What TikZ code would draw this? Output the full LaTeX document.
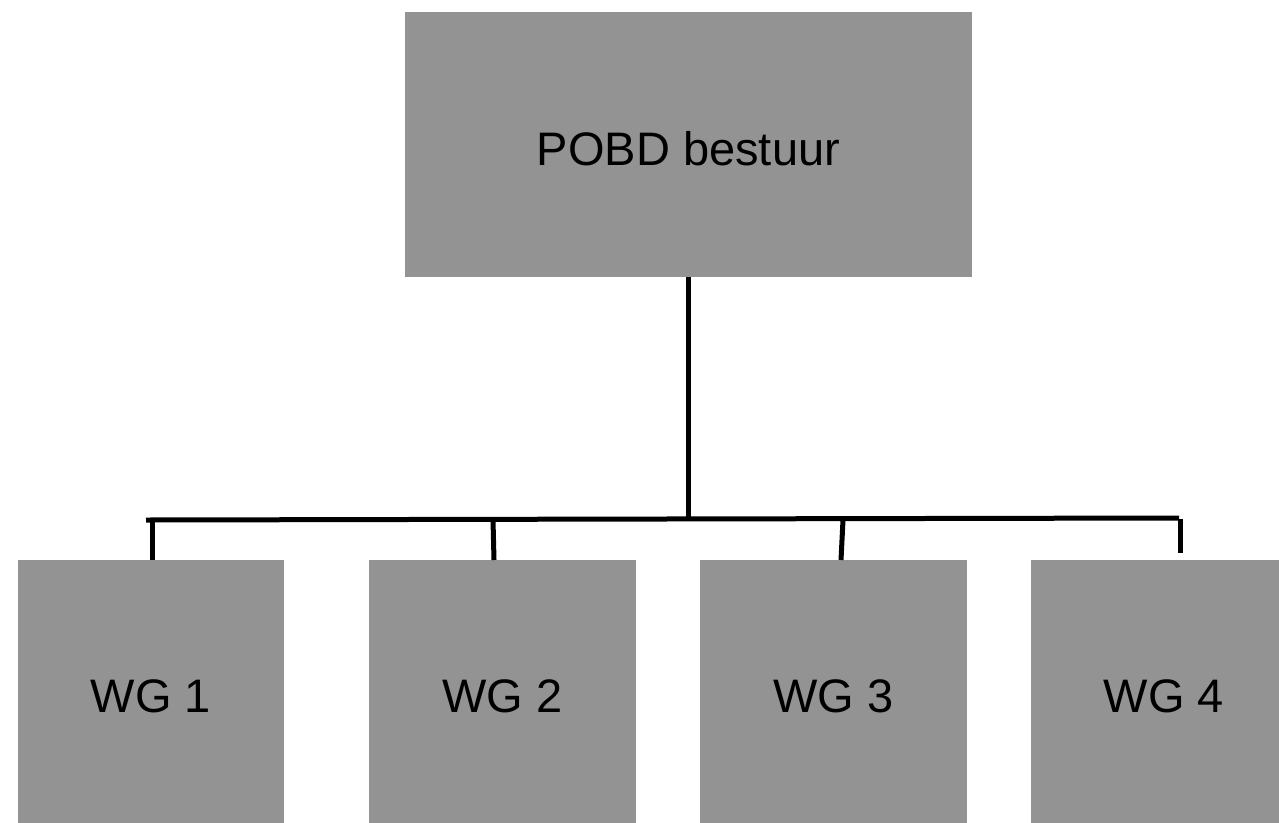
\documentclass[tikz,border=0pt]{standalone}
\usepackage{fontspec}
\setmainfont{Liberation Sans}
\definecolor{boxgray}{RGB}{147,147,147}
\tikzset{
  graybox/.style={fill=boxgray, draw=none, inner sep=0pt},
  lbl/.style={inner sep=0pt, text=black, font=\fontsize{47}{56}\selectfont},
  conn/.style={draw=black, line width=5pt}
}
\begin{document}
\begin{tikzpicture}[x=1pt,y=-1pt]
\useasboundingbox (0,0) rectangle (1279,822);
\node[graybox, minimum width=567pt, minimum height=265pt] (top) at (688.5,144.5) {};
\node[lbl] (toplbl) at ([yshift=-4pt]top.center) {POBD bestuur};
\node[graybox, minimum width=266pt, minimum height=266pt] (wg1) at (151,693) {};
\node[graybox, minimum width=267pt, minimum height=266pt] (wg2) at (502.5,693) {};
\node[graybox, minimum width=267pt, minimum height=266pt] (wg3) at (833.5,693) {};
\node[graybox, minimum width=266pt, minimum height=266pt] (wg4) at (1164,693) {};
\node[lbl] (l1) at ([yshift=-3pt]wg1.center) {WG 1};
\node[lbl] (l2) at ([yshift=-3pt]wg2.center) {WG 2};
\node[lbl] (l3) at ([yshift=-3pt]wg3.center) {WG 3};
\node[lbl] (l4) at ([yshift=-3pt]wg4.center) {WG 4};
% bus
\coordinate (busL) at (146,520);
\coordinate (busR) at (1179,518);
\coordinate (j) at (688,517);
\coordinate (a1) at (152,520);
\coordinate (b1) at (152,560);
\coordinate (a2) at (493,520);
\coordinate (b2) at (494,560);
\coordinate (a3) at (843,520);
\coordinate (b3) at (841,560);
\coordinate (a4) at (1180,519);
\coordinate (b4) at (1180,553);
\draw[conn] (top.south -| j) -- (j);
\draw[conn] (busL) -- (busR);
\draw[conn] (a1) -- (b1);
\draw[conn] (a2) -- (b2);
\draw[conn] (a3) -- (b3);
\draw[conn] (a4) -- (b4);
\end{tikzpicture}
\end{document}
